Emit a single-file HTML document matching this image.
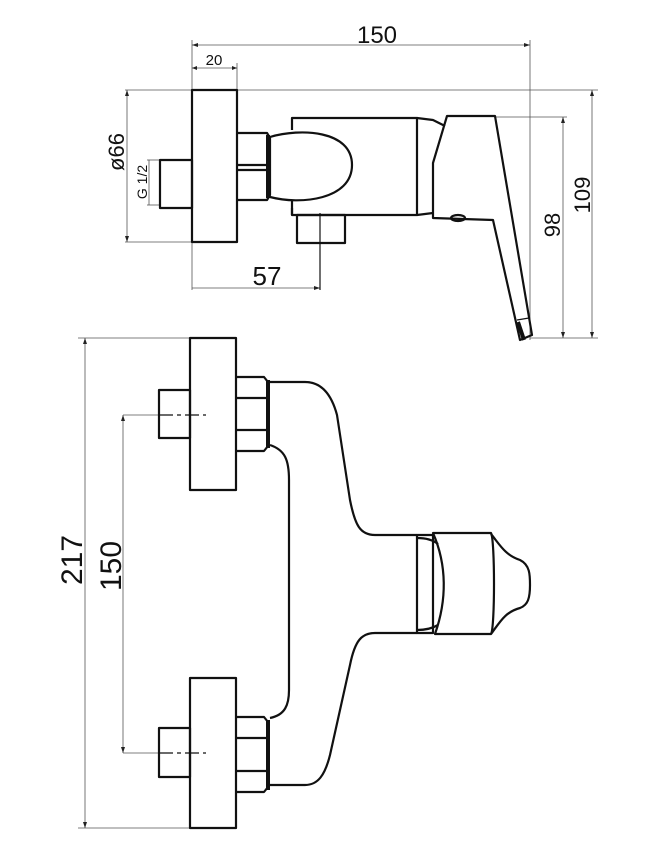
<!DOCTYPE html>
<html><head><style>
html,body{margin:0;padding:0;background:#fff;}
svg{display:block;}
text{font-family:"Liberation Sans",Arial,sans-serif;fill:#111;}
</style></head><body>
<svg width="646" height="851" viewBox="0 0 646 851" xmlns="http://www.w3.org/2000/svg">
<g stroke="#555" stroke-width="0.8" fill="none">
<!-- top view dims -->
<line x1="192" y1="45" x2="530" y2="45"/>
<line x1="192" y1="40" x2="192" y2="290"/>
<line x1="530" y1="40" x2="530" y2="340"/>
<line x1="192" y1="68" x2="237" y2="68"/>
<line x1="237" y1="63" x2="237" y2="90"/>
<line x1="125" y1="90" x2="598" y2="90"/>
<line x1="125" y1="242" x2="192" y2="242"/>
<line x1="127" y1="90" x2="127" y2="242"/>
<line x1="147" y1="160" x2="160" y2="160"/>
<line x1="147" y1="205" x2="160" y2="205"/>
<line x1="149" y1="160" x2="149" y2="205"/>
<line x1="192" y1="288" x2="320" y2="288"/>
<line x1="495" y1="117" x2="567" y2="117"/>
<line x1="530" y1="338" x2="598" y2="338"/>
<line x1="563" y1="117" x2="563" y2="338"/>
<line x1="592" y1="90" x2="592" y2="338"/>
<!-- bottom view dims -->
<line x1="78" y1="338" x2="190" y2="338"/>
<line x1="78" y1="828" x2="190" y2="828"/>
<line x1="85" y1="338" x2="85" y2="828"/>
<line x1="123" y1="415" x2="160" y2="415"/>
<line x1="123" y1="753" x2="160" y2="753"/>
<line x1="123" y1="415" x2="123" y2="753"/>
</g>
<g fill="#222">
<path d="M192,45 l6,-2 v4z M530,45 l-6,-2 v4z M192,68 l5,-2 v4z M237,68 l-5,-2 v4z M320,288 l-6,-2 v4z M563,117 l-2,6 h4z M563,338 l-2,-6 h4z M592,90 l-2,6 h4z M592,338 l-2,-6 h4z M85,338 l-2,6 h4z M85,828 l-2,-6 h4z M123,415 l-2,6 h4z M123,753 l-2,-6 h4z M127,90 l-2,6 h4z M127,242 l-2,-6 h4z"/>
</g>
<g stroke="#111" stroke-width="2.2" fill="none" stroke-linejoin="round">
<!-- top view -->
<rect x="192" y="90" width="45" height="152"/>
<rect x="160" y="160" width="32" height="48"/>
<path d="M237,133 h30 l3,5 v57 l-3,5 h-30 M237,165 h30 M237,170 h30"/>
<line x1="268" y1="135" x2="268" y2="198" stroke-width="4"/>
<path d="M270,137 C300,128 352,130 352,165 C352,200 300,205 270,197"/>
<path d="M292,130 V118 H417 V215 H292 V200"/>
<path d="M292,215 V208"/>
<rect x="297" y="215" width="48" height="28"/>
<line x1="320" y1="213" x2="320" y2="290" stroke-width="1.2"/>
<path d="M417,118 L433,120 L445,126 M417,215 L433,213"/>
<path d="M447,116 H495 L532,335 L520,340 L493,220 L433,218 V163 Z"/>
<path d="M517,320 L529,318" stroke-width="1.2"/>
<line x1="518" y1="322" x2="524" y2="340" stroke-width="4"/>
<ellipse cx="458" cy="218" rx="7" ry="3"/>
<!-- bottom view -->
<rect x="190" y="338" width="46" height="152"/>
<rect x="190" y="678" width="46" height="150"/>
<rect x="159" y="390" width="31" height="48"/>
<rect x="159" y="728" width="31" height="49"/>
<path d="M236,377 h28 l4,5 v64 l-4,5 h-28 M236,398 h30 M236,430 h30"/>
<path d="M236,717 h28 l4,5 v65 l-4,5 h-28 M236,738 h30 M236,771 h30"/>
<line x1="268" y1="380" x2="268" y2="448" stroke-width="4"/>
<line x1="268" y1="720" x2="268" y2="790" stroke-width="4"/>
<path d="M270,382 H305 C325,382 333,400 337,415 L350,500 C355,525 360,535 375,535 H417"/>
<path d="M270,785 H305 C318,785 325,775 330,755 L350,665 C355,640 362,633 375,633 H417"/>
<path d="M270,445 C285,450 289,460 289,480 V690 C289,705 285,715 270,718"/>
<rect x="417" y="535" width="16" height="98"/>
<path d="M417,538 C425,538 433,540 438,544 M417,630 C425,630 433,628 438,625"/>
<path d="M433,533 H491 C495,540 495,628 491,634 H435 C447,600 447,565 433,533 Z"/>
<path d="M491,534 C500,545 505,555 520,560 C530,565 530,575 530,585 C530,598 528,605 520,608 C505,612 500,622 491,634"/>
</g>
<g stroke="#111" stroke-width="1.3" stroke-dasharray="14,4,4,4">
<line x1="159" y1="415" x2="206" y2="415"/>
<line x1="159" y1="753" x2="206" y2="753"/>
</g>
<text x="377" y="43" font-size="24" text-anchor="middle">150</text>
<text x="214" y="65" font-size="15" text-anchor="middle">20</text>
<text x="267" y="285" font-size="26" text-anchor="middle">57</text>
<text transform="translate(124,152) rotate(-90)" font-size="22" text-anchor="middle">ø66</text>
<text transform="translate(147,182) rotate(-90)" font-size="14" text-anchor="middle">G 1/2</text>
<text transform="translate(560,225) rotate(-90)" font-size="22" text-anchor="middle">98</text>
<text transform="translate(590,195) rotate(-90)" font-size="22" text-anchor="middle">109</text>
<text transform="translate(82,560) rotate(-90)" font-size="30" text-anchor="middle">217</text>
<text transform="translate(121,566) rotate(-90)" font-size="30" text-anchor="middle">150</text>
</svg>
</body></html>
